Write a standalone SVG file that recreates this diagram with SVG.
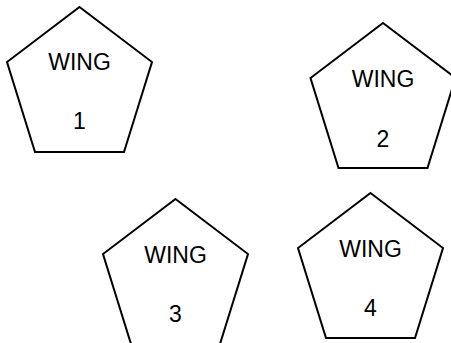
<svg xmlns="http://www.w3.org/2000/svg" width="451" height="343" viewBox="0 0 451 343">
<defs>
<style>
.shape{fill:#fff;stroke:#000;stroke-width:2;stroke-linejoin:miter}
.t{font-family:"Liberation Sans",Arial,sans-serif;font-size:23px;fill:#000;text-anchor:middle}
</style>
<polygon id="pent" class="shape" points="0,0 72.5,55 44.5,145 -44.5,145 -72.5,55"/>
</defs>
<rect width="451" height="343" fill="#fff"/>
<g id="connectors"/>
<g id="wing1" transform="translate(79.5,7)">
<use href="#pent"/>
<text class="t" x="0" y="63">WING</text>
<text class="t" x="0" y="122">1</text>
</g>
<g id="wing2" transform="translate(383,23)">
<use href="#pent"/>
<text class="t" x="0" y="64">WING</text>
<text class="t" x="0" y="124">2</text>
</g>
<g id="wing3" transform="translate(175.5,199)">
<use href="#pent"/>
<text class="t" x="0" y="64">WING</text>
<text class="t" x="0" y="123">3</text>
</g>
<g id="wing4" transform="translate(370.5,193)">
<use href="#pent"/>
<text class="t" x="0" y="64">WING</text>
<text class="t" x="0" y="123">4</text>
</g>
</svg>
